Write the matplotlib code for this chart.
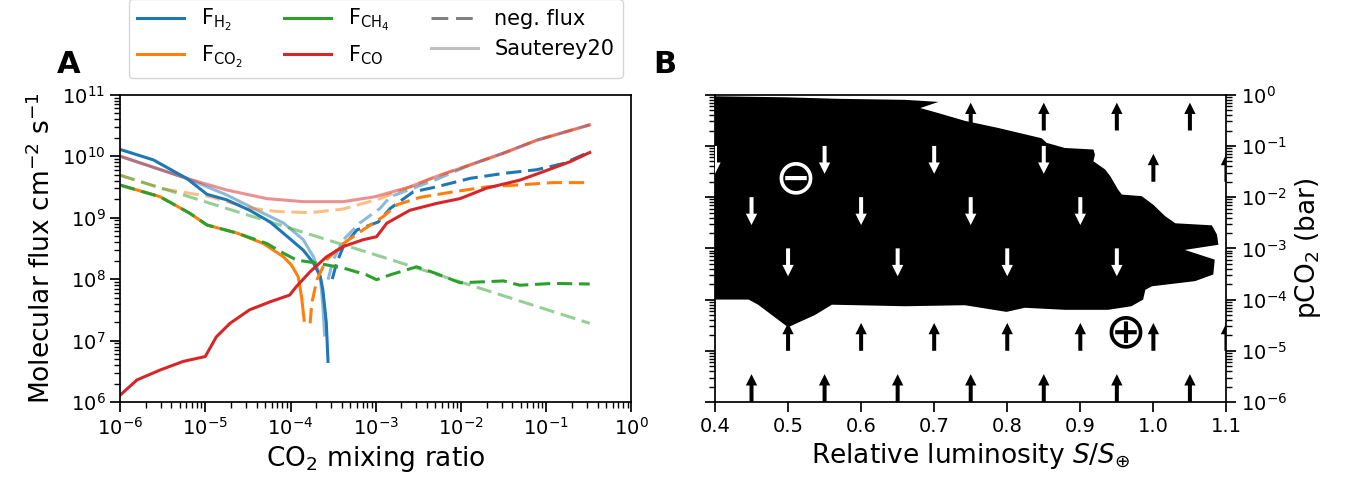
import numpy as np
import matplotlib.pyplot as plt
from matplotlib.lines import Line2D
from matplotlib.patches import FancyArrowPatch

# ---------------- Panel A: surface fluxes vs CO2 mixing ratio ----------------
# all values are log10(CO2 mixing ratio) and log10(|flux| / cm^-2 s^-1)
h2_pos_x = [-6.0, -5.61, -5.22, -4.98, -4.75, -4.48, -4.24, -4.01, -3.85, -3.73, -3.65, -3.62, -3.58, -3.56]
h2_pos_y = [10.11, 9.94, 9.64, 9.38, 9.29, 9.12, 8.93, 8.66, 8.47, 8.26, 8.04, 7.82, 7.29, 6.66]
h2_neg_x = [-3.51, -3.46, -3.38, -3.22, -2.97, -2.83, -2.56, -2.29, -1.89, -1.50, -1.11, -0.80, -0.49]
h2_neg_y = [8.00, 8.26, 8.53, 8.80, 8.93, 9.15, 9.42, 9.50, 9.64, 9.72, 9.78, 9.88, 10.07]

co2_pos_x = [-6.0, -5.53, -5.18, -4.98, -4.63, -4.32, -4.08, -3.99, -3.91, -3.87, -3.84]
co2_pos_y = [9.53, 9.34, 9.07, 8.88, 8.75, 8.58, 8.36, 8.23, 8.04, 7.71, 7.33]
co2_neg_x = [-3.77, -3.75, -3.69, -3.58, -3.38, -3.15, -2.91, -2.75, -2.48, -2.09, -1.70, -1.35, -0.92, -0.49]
co2_neg_y = [7.28, 7.61, 7.99, 8.31, 8.58, 8.80, 9.02, 9.21, 9.33, 9.42, 9.50, 9.53, 9.57, 9.57]

ch4_neg_x = [-6.0, -5.53, -5.18, -4.98, -4.63, -4.28, -4.08, -3.93, -3.69, -3.38, -3.11, -2.99,
             -2.83, -2.52, -2.29, -2.01, -1.50, -1.31, -0.92, -0.49]
ch4_neg_y = [9.53, 9.34, 9.07, 8.88, 8.75, 8.58, 8.42, 8.31, 8.26, 8.18, 8.07, 7.99,
             8.07, 8.20, 8.09, 7.94, 7.97, 7.90, 7.93, 7.92]

co_pos_x = [-6.0, -5.80, -5.53, -5.26, -5.00, -4.87, -4.71, -4.48, -4.24, -4.01, -3.93, -3.77, -3.58,
            -3.38, -3.15, -2.99, -2.87, -2.60, -2.29, -2.01, -1.70, -1.31, -1.03, -0.72, -0.49]
co_pos_y = [6.11, 6.36, 6.52, 6.66, 6.74, 7.06, 7.28, 7.50, 7.63, 7.74, 7.88, 8.12, 8.36,
            8.53, 8.64, 8.69, 8.91, 9.12, 9.23, 9.31, 9.48, 9.61, 9.75, 9.91, 10.06]

# Sauterey et al. (2020) fluxes
s_h2_pos_x = [-6.0, -5.22, -4.75, -4.36, -4.08, -3.85, -3.73, -3.65, -3.62, -3.60]
s_h2_pos_y = [10.00, 9.64, 9.37, 9.10, 8.91, 8.64, 8.36, 8.04, 7.55, 7.09]
s_h2_neg_x = [-3.56, -3.50, -3.38, -3.19, -2.95, -2.83, -2.56, -2.29, -1.89, -1.50, -1.11, -0.49]
s_h2_neg_y = [7.99, 8.31, 8.64, 8.91, 9.15, 9.34, 9.48, 9.62, 9.86, 10.05, 10.26, 10.51]

s_co2_neg_x = [-6.0, -5.50, -4.94, -4.75, -4.44, -4.16, -3.77, -3.38, -2.95, -2.60, -2.29, -1.89, -1.50, -1.11, -0.49]
s_co2_neg_y = [9.69, 9.47, 9.34, 9.26, 9.15, 9.10, 9.08, 9.14, 9.31, 9.50, 9.67, 9.86, 10.05, 10.26, 10.51]

s_ch4_neg_x = [-6.0, -2.99, -0.49]
s_ch4_neg_y = [9.69, 8.39, 7.28]

s_co_pos_x = [-6.0, -5.22, -4.75, -4.28, -3.85, -3.38, -3.01, -2.60, -2.29, -1.89, -1.50, -1.11, -0.49]
s_co_pos_y = [10.00, 9.64, 9.45, 9.31, 9.26, 9.26, 9.34, 9.50, 9.67, 9.86, 10.05, 10.26, 10.51]

# ---------------- Panel B: sign of the net flux ----------------
# outline of the negative-flux region: relative luminosity, log10 pCO2 (bar)
neg_S = [0.400, 0.496, 0.569, 0.660, 0.706, 0.681, 0.706, 0.742, 0.788, 0.847, 0.854, 0.879,
         0.918, 0.920, 0.918, 0.934, 0.941, 0.952, 0.957, 0.984, 1.000, 1.016, 1.030, 1.080,
         1.087, 1.089, 1.043, 1.084, 1.082, 1.057, 0.998, 0.989, 0.986, 0.970, 0.938, 0.879,
         0.824, 0.799, 0.742, 0.660, 0.560, 0.537, 0.500, 0.459, 0.446, 0.400]
neg_logp = [-0.03, -0.05, -0.08, -0.10, -0.14, -0.26, -0.36, -0.51, -0.65, -0.85, -0.94, -1.04,
            -1.07, -1.17, -1.30, -1.46, -1.59, -1.86, -1.95, -1.98, -2.15, -2.37, -2.51, -2.55,
            -2.73, -2.93, -3.03, -3.22, -3.51, -3.64, -3.74, -3.81, -4.00, -4.13, -4.20, -4.20,
            -4.16, -4.24, -4.11, -4.13, -4.10, -4.30, -4.54, -4.10, -4.00, -4.00]

# direction arrows: luminosity and pCO2 at the arrow tail
up_S = [0.45, 0.55, 0.65, 0.75, 0.85, 0.95, 1.05,
        0.50, 0.60, 0.70, 0.80, 0.90, 1.00, 1.10,
        1.00, 1.10,
        0.75, 0.85, 0.95, 1.05]
up_p = [1e-6, 1e-6, 1e-6, 1e-6, 1e-6, 1e-6, 1e-6,
        1e-5, 1e-5, 1e-5, 1e-5, 1e-5, 1e-5, 1e-5,
        2e-2, 2e-2,
        2e-1, 2e-1, 2e-1, 2e-1]
down_S = [0.40, 0.55, 0.70, 0.85,
          0.45, 0.60, 0.75, 0.90,
          0.50, 0.65, 0.80, 0.95]
down_p = [1e-1, 1e-1, 1e-1, 1e-1,
          1e-2, 1e-2, 1e-2, 1e-2,
          1e-3, 1e-3, 1e-3, 1e-3]
arrow_span = 3.5  # ratio tip/tail in pCO2

plt.rcParams.update({
    'font.size': 14,
    'axes.labelsize': 19,
    'xtick.labelsize': 14,
    'ytick.labelsize': 14,
    'legend.fontsize': 15,
    'axes.linewidth': 1.25,
    'xtick.major.size': 7, 'ytick.major.size': 7,
    'xtick.minor.size': 4, 'ytick.minor.size': 4,
    'xtick.major.width': 1.25, 'ytick.major.width': 1.25,
    'xtick.minor.width': 1.0, 'ytick.minor.width': 1.0,
})

colors = {'h2': 'C0', 'co2': 'C1', 'ch4': 'C2', 'co': 'C3'}
LW = 2.2
DASH = (0, (5, 2.2))


def logplot(ax, lx, ly, **kw):
    ax.plot(10.0 ** np.asarray(lx), 10.0 ** np.asarray(ly), lw=LW, **kw)


fig = plt.figure(figsize=(13.47, 4.84), dpi=100)
axA = fig.add_axes([0.0891, 0.1694, 0.3797, 0.6349])
axB = fig.add_axes([0.5308, 0.1694, 0.3797, 0.6349])

# Sauterey20 curves, drawn underneath
logplot(axA, s_h2_pos_x, s_h2_pos_y, color=colors['h2'], alpha=0.5)
logplot(axA, s_h2_neg_x, s_h2_neg_y, color=colors['h2'], alpha=0.5, ls=DASH)
logplot(axA, s_co2_neg_x, s_co2_neg_y, color=colors['co2'], alpha=0.5, ls=DASH)
logplot(axA, s_ch4_neg_x, s_ch4_neg_y, color=colors['ch4'], alpha=0.5, ls=DASH)
logplot(axA, s_co_pos_x, s_co_pos_y, color=colors['co'], alpha=0.5)

# this model
logplot(axA, h2_pos_x, h2_pos_y, color=colors['h2'])
logplot(axA, h2_neg_x, h2_neg_y, color=colors['h2'], ls=DASH)
logplot(axA, co2_pos_x, co2_pos_y, color=colors['co2'])
logplot(axA, co2_neg_x, co2_neg_y, color=colors['co2'], ls=DASH)
logplot(axA, ch4_neg_x, ch4_neg_y, color=colors['ch4'], ls=DASH)
logplot(axA, co_pos_x, co_pos_y, color=colors['co'])

axA.set_xscale('log')
axA.set_yscale('log')
axA.set_xlim(1e-6, 1)
axA.set_ylim(1e6, 1e11)
axA.set_xlabel('CO$_2$ mixing ratio')
axA.set_ylabel('Molecular flux cm$^{-2}$ s$^{-1}$')

handles = [
    Line2D([], [], color=colors['h2'], lw=LW),
    Line2D([], [], color=colors['co2'], lw=LW),
    Line2D([], [], color=colors['ch4'], lw=LW),
    Line2D([], [], color=colors['co'], lw=LW),
    Line2D([], [], color='gray', lw=LW, ls=(0, (5.5, 2.5))),
    Line2D([], [], color='gray', lw=LW, alpha=0.5),
]
labels = [r'$\mathrm{F_{H_2}}$', r'$\mathrm{F_{CO_2}}$', r'$\mathrm{F_{CH_4}}$',
          r'$\mathrm{F_{CO}}$', 'neg. flux', 'Sauterey20']
axA.legend(handles, labels, ncol=3, loc='lower center', bbox_to_anchor=(0.5, 1.0),
           borderaxespad=0.8, handlelength=2.25)

# Panel B: negative region and flux arrows
axB.fill(neg_S, 10.0 ** np.asarray(neg_logp), color='black', lw=0, zorder=1)

arrow_kw = dict(arrowstyle='simple,head_length=0.68,head_width=0.68,tail_width=0.24',
                mutation_scale=12, lw=0, shrinkA=0, shrinkB=0, zorder=3)
for s, p in zip(up_S, up_p):
    axB.add_patch(FancyArrowPatch((s, p), (s, p * arrow_span), color='black', **arrow_kw))
for s, p in zip(down_S, down_p):
    axB.add_patch(FancyArrowPatch((s, p), (s, p / arrow_span), color='white', **arrow_kw))

axB.text(0.5104, 10 ** -1.66, '\u2296', color='white', fontsize=36,
         ha='center', va='center', zorder=4)
axB.text(0.9616, 10 ** -4.666, '\u2295', color='black', fontsize=36,
         ha='center', va='center', zorder=4)

axB.set_yscale('log')
axB.set_xlim(0.4, 1.1)
axB.set_ylim(1e-6, 1)
axB.set_xticks(np.arange(0.4, 1.101, 0.1))
axB.yaxis.set_label_position('right')
axB.tick_params(axis='y', which='both', left=True, right=True, labelleft=False, labelright=True)
axB.set_xlabel(r'Relative luminosity $S/S_{\oplus}$')
axB.set_ylabel('pCO$_2$ (bar)')

fig.text(57 / 1347, 1 - 73 / 484, 'A', fontsize=22, fontweight='bold', va='baseline')
fig.text(653 / 1347, 1 - 73 / 484, 'B', fontsize=22, fontweight='bold', va='baseline')

fig.savefig('out.png', dpi=100)
